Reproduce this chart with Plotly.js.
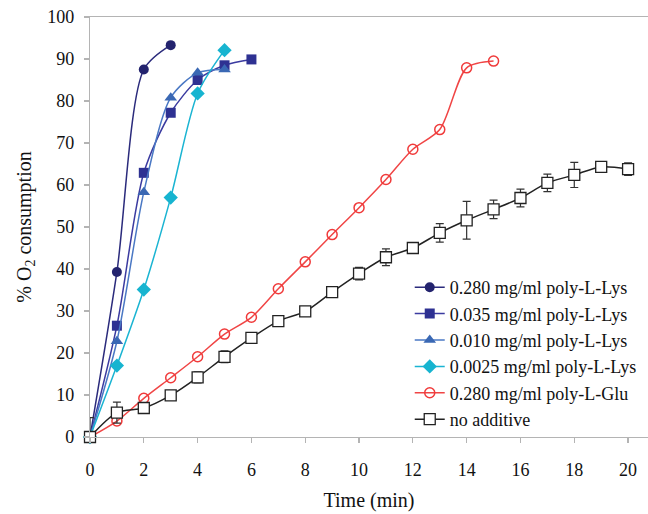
<!DOCTYPE html>
<html>
<head>
<meta charset="utf-8">
<script src="https://cdn.plot.ly/plotly-3.0.1.min.js"></script>
<style>html,body{margin:0;padding:0;background:#fff;}#chart{width:648px;height:514px;}</style>
</head>
<body>
<div id="chart"></div>
<script>
// ---- data ----
const seriesNames = [
  "0.280 mg/ml poly-L-Lys",
  "0.035 mg/ml poly-L-Lys",
  "0.010 mg/ml poly-L-Lys",
  "0.0025 mg/ml poly-L-Lys",
  "0.280 mg/ml poly-L-Glu",
  "no additive"
];
const timeLys280 = [0, 1, 2, 3];
const valLys280 = [0, 39.3, 87.5, 93.3];
const timeLys035 = [0, 1, 2, 3, 4, 5, 6];
const valLys035 = [0, 26.5, 62.9, 77.2, 85.0, 88.5, 89.9];
const timeLys010 = [0, 1, 2, 3, 4, 5];
const valLys010 = [0, 22.8, 58.3, 80.8, 86.7, 87.5];
const timeLys0025 = [0, 1, 2, 3, 4, 5];
const valLys0025 = [0, 17.0, 35.1, 57.0, 81.8, 92.1];
const timeGlu = [0, 1, 2, 3, 4, 5, 6, 7, 8, 9, 10, 11, 12, 13, 14, 15];
const valGlu = [0, 3.8, 9.2, 14.1, 19.1, 24.5, 28.5, 35.3, 41.7, 48.2, 54.6, 61.3, 68.5, 73.2, 87.9, 89.5];
const timeNone = [0, 1, 2, 3, 4, 5, 6, 7, 8, 9, 10, 11, 12, 13, 14, 15, 16, 17, 18, 19, 20];
const valNone = [0, 5.8, 6.9, 9.9, 14.2, 19.1, 23.6, 27.6, 29.9, 34.5, 38.9, 42.8, 45.0, 48.6, 51.6, 54.2, 56.9, 60.5, 62.4, 64.3, 63.8];
const errNonePlus = [4.6, 2.5, 0.3, 0.3, 1.3, 1.4, 0.5, 0.8, 0.5, 0.3, 1.5, 2.0, 0.3, 2.2, 4.5, 2.2, 2.1, 2.1, 3.0, 1.1, 1.5];
const errNoneMinus = [0, 2.5, 0.3, 0.3, 1.3, 1.4, 0.5, 0.8, 0.5, 0.3, 1.5, 2.0, 0.3, 2.2, 4.5, 2.2, 2.1, 2.1, 3.0, 1.1, 1.5];
const xTickVals = [0, 2, 4, 6, 8, 10, 12, 14, 16, 18, 20];
const yTickVals = [0, 10, 20, 30, 40, 50, 60, 70, 80, 90, 100];

// ---- styles ----
const serif = "Liberation Serif";
const lw = 1.5;
function tr(i, x, y, lineColor, marker, extra) {
  return Object.assign({
    type: 'scatter', mode: 'lines+markers', name: seriesNames[i],
    x: x, y: y, legendgroup: 'g' + i,
    line: {color: lineColor, width: lw, shape: 'spline', smoothing: 0.8},
    marker: marker, cliponaxis: false
  }, extra || {});
}
const traces = [
  tr(0, timeLys280, valLys280, '#2b2b7c', {symbol: 'circle', size: 10, color: '#23236e'}),
  tr(1, timeLys035, valLys035, '#3b3ba0', {symbol: 'square', size: 10, color: '#2e3192'}),
  tr(2, timeLys010, valLys010, '#4a78c4', {symbol: 'triangle-up', size: 11, color: '#3a68b4'}),
  tr(3, timeLys0025, valLys0025, '#1ab4d2', {symbol: 'diamond', size: 11, color: '#17b4d0'}),
  tr(4, timeGlu, valGlu, '#f04545', {symbol: 'circle-open', size: 10, color: '#f03a3a', line: {width: 1.5, color: '#f03a3a'}}),
  tr(5, timeNone, valNone, '#222222', {symbol: 'square', size: 11, color: '#ffffff', line: {width: 1.3, color: '#222222'}}, {
    error_y: {type: 'data', symmetric: false, array: errNonePlus, arrayminus: errNoneMinus, color: '#333333', thickness: 1.2, width: 4}
  })
];

const axisCommon = {
  showgrid: false, zeroline: false, showline: true, linecolor: '#b4b4b4', linewidth: 1.2,
  ticks: 'outside', ticklen: 5, tickcolor: '#b4b4b4', tickwidth: 1.2,
  tickfont: {family: serif, size: 18, color: '#111'}
};
const layout = {
  width: 648, height: 514,
  margin: {l: 90, r: 0, t: 17, b: 77},
  paper_bgcolor: '#ffffff', plot_bgcolor: '#ffffff',
  showlegend: true,
  xaxis: Object.assign({}, axisCommon, {
    range: [0, 20.74], tickvals: xTickVals, ticklabelstandoff: 11, mirror: true,
    title: {text: 'Time (min)', font: {family: serif, size: 20, color: '#111'}, standoff: 14}
  }),
  yaxis: Object.assign({}, axisCommon, {
    range: [0, 100], tickvals: yTickVals, ticklabelstandoff: 6,
    title: {text: '% O<sub>2</sub> consumption', font: {family: serif, size: 20, color: '#111'}, standoff: 10}
  }),
  legend: {
    x: 0.573, y: 0.4, xanchor: 'left', yanchor: 'top',
    font: {family: serif, size: 18, color: '#111'},
    bgcolor: 'rgba(255,255,255,0)', traceorder: 'grouped', tracegroupgap: 0,
    itemwidth: 30
  }
};
Plotly.newPlot('chart', traces, layout, {displayModeBar: false, staticPlot: true});
</script>
</body>
</html>
